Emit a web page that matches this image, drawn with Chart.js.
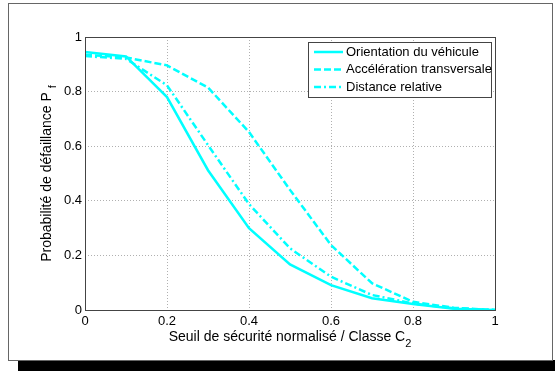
<!DOCTYPE html>
<html>
<head>
<meta charset="utf-8">
<script src="https://cdn.jsdelivr.net/npm/chart.js@4"></script>
<style>
  body { margin: 0; background: #fff; }
  canvas { display: block; }
</style>
</head>
<body>
<canvas id="graficoPf" width="555" height="371"></canvas>
<script>
// Données
var seuils = [0, 0.1, 0.2, 0.3, 0.4, 0.5, 0.6, 0.7, 0.8, 0.9, 1];
var orientation = [0.945, 0.929, 0.78, 0.512, 0.30, 0.167, 0.091, 0.043, 0.022, 0.005, 0];
var acceleration = [0.935, 0.925, 0.896, 0.815, 0.652, 0.44, 0.238, 0.098, 0.03, 0.008, 0];
var distance = [0.93, 0.92, 0.823, 0.604, 0.388, 0.226, 0.122, 0.055, 0.024, 0.006, 0];
var nomsSeries = ['Orientation du véhicule', 'Accélération transversale', 'Distance relative'];
var ticksX = [0, 0.2, 0.4, 0.6, 0.8, 1];
var ticksY = [0, 0.2, 0.4, 0.6, 0.8, 1];

var police = "'Liberation Sans', Arial, Helvetica, sans-serif";

function points(valeurs) {
    return seuils.map(function(x, i) { return { x: x, y: valeurs[i] }; });
}

// Cadre, boîte des axes, titres avec indices et légende
var decor = {
    id: 'decor',
    beforeDraw: function(chart) {
        var ctx = chart.ctx;
        ctx.save();
        ctx.fillStyle = '#fff';
        ctx.fillRect(0, 0, chart.width, chart.height);
        ctx.fillStyle = '#000';
        ctx.fillRect(18, 360, 537, 11);
        ctx.strokeStyle = '#666';
        ctx.lineWidth = 1;
        ctx.strokeRect(8.5, 3.5, 544, 357);
        ctx.restore();
    },
    afterDraw: function(chart) {
        var ctx = chart.ctx;
        var a = chart.chartArea;
        ctx.save();
        // boîte des axes
        ctx.strokeStyle = '#444';
        ctx.lineWidth = 1;
        ctx.setLineDash([]);
        ctx.strokeRect(Math.round(a.left) + 0.5, Math.round(a.top) + 0.5,
                       Math.round(a.right - a.left), Math.round(a.bottom - a.top));

        // titre axe x
        ctx.fillStyle = '#000';
        ctx.font = '14px ' + police;
        ctx.textBaseline = 'middle';
        var tx = 'Seuil de sécurité normalisé / Classe C';
        var w = ctx.measureText(tx).width;
        ctx.font = '11px ' + police;
        var ws = ctx.measureText('2').width;
        var cx = (a.left + a.right) / 2;
        var x0 = cx - (w + ws) / 2;
        ctx.font = '14px ' + police;
        ctx.textAlign = 'left';
        ctx.fillText(tx, x0, 337);
        ctx.font = '11px ' + police;
        ctx.fillText('2', x0 + w, 344);

        // titre axe y
        ctx.save();
        ctx.translate(47, (a.top + a.bottom) / 2);
        ctx.rotate(-Math.PI / 2);
        ctx.font = '14px ' + police;
        var ty = 'Probabilité de défaillance P';
        var wy = ctx.measureText(ty).width;
        ctx.font = '11px ' + police;
        var wf = ctx.measureText('f').width + 4;
        var y0 = -(wy + wf) / 2;
        ctx.font = '14px ' + police;
        ctx.fillText(ty, y0, 0);
        ctx.font = '11px ' + police;
        ctx.fillText('f', y0 + wy + 4, 6);
        ctx.restore();

        // légende
        var lx = a.right - 187, ly = a.top + 5, lw = 183, lh = 55;
        ctx.fillStyle = '#fff';
        ctx.fillRect(lx, ly, lw, lh);
        ctx.strokeStyle = '#444';
        ctx.strokeRect(lx + 0.5, ly + 0.5, lw, lh);
        ctx.font = '13px ' + police;
        ctx.textAlign = 'left';
        ctx.textBaseline = 'middle';
        chart.data.datasets.forEach(function(ds, i) {
            var yy = ly + 10 + i * 17.5;
            ctx.strokeStyle = ds.borderColor;
            ctx.lineWidth = ds.borderWidth;
            ctx.setLineDash(ds.borderDash || []);
            ctx.beginPath();
            ctx.moveTo(lx + 6, yy);
            ctx.lineTo(lx + 35, yy);
            ctx.stroke();
            ctx.setLineDash([]);
            ctx.fillStyle = '#000';
            ctx.fillText(ds.label, lx + 38, yy);
        });
        ctx.restore();
    }
};

var ctx = document.getElementById('graficoPf').getContext('2d');
var grafico = new Chart(ctx, {
    type: 'line',
    data: {
        datasets: [{
            label: nomsSeries[0],
            data: points(orientation),
            borderColor: '#00ffff',
            borderWidth: 2.5,
            borderDash: []
        }, {
            label: nomsSeries[1],
            data: points(acceleration),
            borderColor: '#00ffff',
            borderWidth: 2.5,
            borderDash: [7, 3]
        }, {
            label: nomsSeries[2],
            data: points(distance),
            borderColor: '#00ffff',
            borderWidth: 2.5,
            borderDash: [7, 3, 2, 3]
        }]
    },
    options: {
        responsive: false,
        animation: false,
        layout: { padding: { left: 0, top: 37, right: 60, bottom: 0 } },
        elements: { point: { radius: 0 }, line: { tension: 0 } },
        plugins: {
            legend: { display: false },
            tooltip: { enabled: false }
        },
        scales: {
            x: {
                type: 'linear',
                min: 0,
                max: 1,
                afterBuildTicks: function(axis) {
                    axis.ticks = ticksX.map(function(v) { return { value: v }; });
                },
                afterFit: function(axis) { axis.height = 61; },
                ticks: {
                    color: '#000',
                    font: { size: 13, family: police },
                    padding: 4,
                    maxRotation: 0,
                    callback: function(v) { return String(v); }
                },
                grid: { color: '#b0b0b0', lineWidth: 1, drawTicks: false, borderDash: [1, 2] },
                border: { display: false, dash: [1, 2] }
            },
            y: {
                min: 0,
                max: 1,
                afterBuildTicks: function(axis) {
                    axis.ticks = ticksY.map(function(v) { return { value: v }; });
                },
                afterFit: function(axis) { axis.width = 85; },
                ticks: {
                    color: '#000',
                    font: { size: 13, family: police },
                    padding: 3,
                    callback: function(v) { return String(v); }
                },
                grid: { color: '#b0b0b0', lineWidth: 1, drawTicks: false, borderDash: [1, 2] },
                border: { display: false, dash: [1, 2] }
            }
        }
    },
    plugins: [decor]
});
</script>
</body>
</html>
